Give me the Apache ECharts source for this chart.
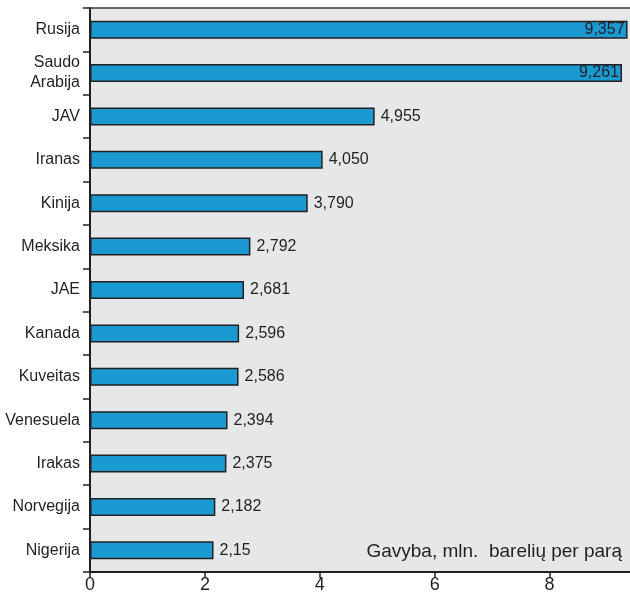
<!DOCTYPE html>
<html>
<head>
<meta charset="utf-8">
<script src="https://cdn.jsdelivr.net/npm/echarts@6/dist/echarts.min.js"></script>
<style>
  html, body { margin: 0; padding: 0; background: #fff; }
  #chart { width: 630px; height: 597px; }
</style>
</head>
<body>
<div id="chart"></div>
<script>
const countries = ['Rusija', 'Saudo\nArabija', 'JAV', 'Iranas', 'Kinija', 'Meksika', 'JAE',
  'Kanada', 'Kuveitas', 'Venesuela', 'Irakas', 'Norvegija', 'Nigerija'];
const production = [9.357, 9.261, 4.955, 4.050, 3.790, 2.792, 2.681, 2.596, 2.586, 2.394, 2.375, 2.182, 2.15];
const productionLabels = ['9,357', '9,261', '4,955', '4,050', '3,790', '2,792', '2,681',
  '2,596', '2,586', '2,394', '2,375', '2,182', '2,15'];
const xTicks = [0, 2, 4, 6, 8];

const insideCount = 2; // first two labels sit inside the bar

let myChart = echarts.init(document.getElementById('chart'));

let option = {
  animation: false,
  grid: {
    left: 90,
    right: 0,
    top: 8,
    bottom: 25,
    show: true,
    backgroundColor: '#e6e7e8',
    borderWidth: 0
  },
  xAxis: [{
    type: 'value',
    min: 0,
    max: 9.4,
    interval: 2,
    position: 'bottom',
    splitLine: { show: false },
    axisLine: { show: true, lineStyle: { color: '#231f20', width: 2 } },
    axisTick: { show: true, length: 6, lineStyle: { color: '#231f20', width: 1.5 } },
    axisLabel: {
      color: '#231f20',
      fontFamily: 'Liberation Sans, Arial',
      fontSize: 18,
      margin: 4,
      showMaxLabel: false,
      formatter: function (v) { return xTicks.indexOf(v) >= 0 ? String(v) : ''; }
    }
  }, {
    type: 'value',
    min: 0,
    max: 9.4,
    position: 'top',
    splitLine: { show: false },
    axisLine: { show: true, lineStyle: { color: '#3a3a3a', width: 1.5 } },
    axisTick: { show: false },
    axisLabel: { show: false }
  }],
  yAxis: {
    type: 'category',
    inverse: true,
    data: countries,
    axisLine: { show: true, lineStyle: { color: '#231f20', width: 2 } },
    axisTick: { show: true, length: 7, lineStyle: { color: '#231f20', width: 1.5 } },
    axisLabel: {
      color: '#231f20',
      fontFamily: 'Liberation Sans, Arial',
      fontSize: 16,
      lineHeight: 20,
      align: 'right',
      margin: 10
    }
  },
  graphic: [{
    type: 'text',
    right: 8,
    bottom: 36,
    style: {
      text: 'Gavyba, mln.  barelių per parą',
      fill: '#231f20',
      font: '19px "Liberation Sans", Arial'
    }
  }],
  series: [{
    type: 'bar',
    barWidth: 18,
    data: production.map(function (v, i) {
      return {
        value: v,
        label: i < insideCount
          ? { position: 'insideRight', distance: 3 }
          : { position: 'right', distance: 6 }
      };
    }),
    itemStyle: {
      color: '#1b9ad2',
      borderColor: '#231f20',
      borderWidth: 1.5
    },
    label: {
      show: true,
      color: '#231f20',
      fontFamily: 'Liberation Sans, Arial',
      fontSize: 16,
      formatter: function (p) { return productionLabels[p.dataIndex]; }
    }
  }]
};

myChart.setOption(option);
</script>
</body>
</html>
